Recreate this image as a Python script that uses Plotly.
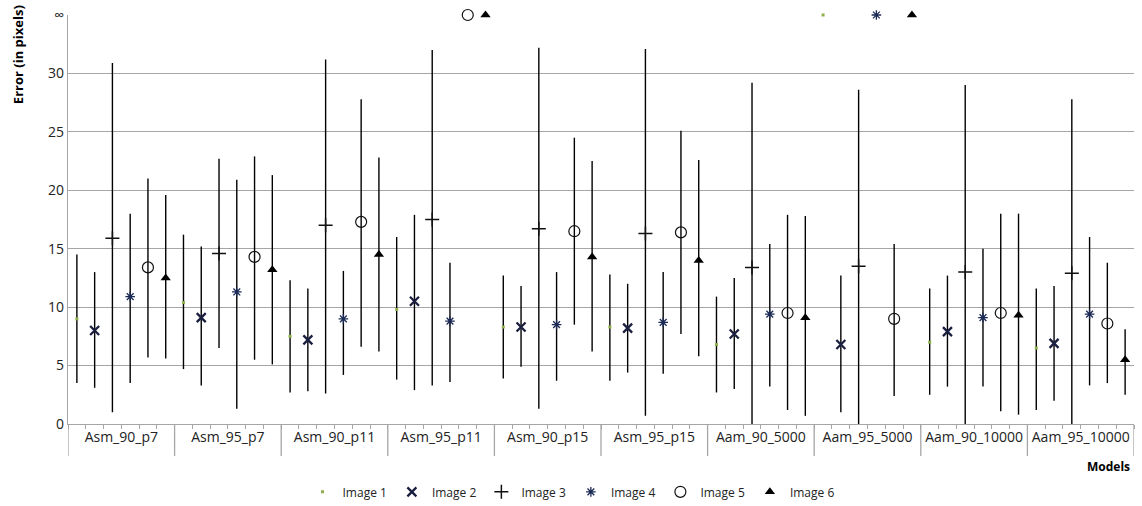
import plotly.graph_objects as go

INF = float("inf")
INF_LEVEL = 35  # position of the "∞" tick

models = ["Asm_90_p7", "Asm_95_p7", "Asm_90_p11", "Asm_95_p11", "Asm_90_p15",
          "Asm_95_p15", "Aam_90_5000", "Aam_95_5000", "Aam_90_10000", "Aam_95_10000"]
series_names = ["Image 1", "Image 2", "Image 3", "Image 4", "Image 5", "Image 6"]

# mean error per model for each image (inf = infinite error)
img1_mean = [9.0, 10.4, 7.5, 9.8, 8.3, 8.3, 6.8, INF, 7.0, 6.5]
img1_max  = [14.5, 16.2, 12.3, 16.0, 12.7, 12.8, 10.9, None, 11.6, 11.6]
img1_min  = [3.5, 4.7, 2.7, 3.8, 3.9, 3.7, 2.7, None, 2.5, 1.2]

img2_mean = [8.0, 9.1, 7.2, 10.5, 8.3, 8.2, 7.7, 6.8, 7.9, 6.9]
img2_max  = [13.0, 15.2, 11.6, 17.9, 11.8, 12.0, 12.5, 12.7, 12.7, 11.8]
img2_min  = [3.1, 3.3, 2.8, 2.9, 4.9, 4.4, 3.0, 1.0, 3.2, 2.0]

img3_mean = [15.9, 14.6, 17.0, 17.5, 16.7, 16.3, 13.4, 13.5, 13.0, 12.9]
img3_max  = [30.9, 22.7, 31.2, 32.0, 32.2, 32.1, 29.2, 28.6, 29.0, 27.8]
img3_min  = [1.0, 6.5, 2.6, 3.3, 1.3, 0.7, 0.0, 0.0, 0.0, 0.0]

img4_mean = [10.9, 11.3, 9.0, 8.8, 8.5, 8.7, 9.4, INF, 9.1, 9.4]
img4_max  = [18.0, 20.9, 13.1, 13.8, 13.0, 13.0, 15.4, None, 15.0, 16.0]
img4_min  = [3.5, 1.3, 4.2, 3.6, 3.7, 4.3, 3.2, None, 3.2, 3.3]

img5_mean = [13.4, 14.3, 17.3, INF, 16.5, 16.4, 9.5, 9.0, 9.5, 8.6]
img5_max  = [21.0, 22.9, 27.8, None, 24.5, 25.1, 17.9, 15.4, 18.0, 13.8]
img5_min  = [5.7, 5.5, 6.6, None, 8.5, 7.7, 1.2, 2.4, 1.1, 3.5]

img6_mean = [12.5, 13.2, 14.5, INF, 14.3, 14.0, 9.1, INF, 9.3, 5.5]
img6_max  = [19.6, 21.3, 22.8, None, 22.5, 22.6, 17.8, None, 18.0, 8.1]
img6_min  = [5.6, 5.1, 6.2, None, 6.2, 5.8, 0.7, None, 0.8, 2.5]

y_tickvals = [0, 5, 10, 15, 20, 25, 30, 35]
y_ticktext = ["0", "5", "10", "15", "20", "25", "30", "∞"]

means = [img1_mean, img2_mean, img3_mean, img4_mean, img5_mean, img6_mean]
maxs = [img1_max, img2_max, img3_max, img4_max, img5_max, img6_max]
mins = [img1_min, img2_min, img3_min, img4_min, img5_min, img6_min]

styles = [
    dict(symbol="square", size=3, color="#8db04a", line=dict(width=0)),
    dict(symbol="x-thin-open", size=9, color="#1b1f3f", line=dict(width=2.3, color="#1b1f3f")),
    dict(symbol="cross-thin-open", size=10, color="#111111", line=dict(width=1.5, color="#111111")),
    dict(symbol="asterisk-open", size=8, color="#1b2a55", line=dict(width=1.3, color="#1b2a55")),
    dict(symbol="circle-open", size=11, color="#111111", line=dict(width=1.2, color="#111111")),
    dict(symbol="triangle-up", size=9, color="#000000", line=dict(width=0)),
]

fig = go.Figure()
n = len(models)
for i, name in enumerate(series_names):
    xs, ys, up, dn = [], [], [], []
    for c in range(n):
        m = means[i][c]
        xs.append(c + (i + 0.5) / 6)
        if m == INF:
            ys.append(INF_LEVEL)
            up.append(0)
            dn.append(0)
        else:
            ys.append(m)
            up.append(maxs[i][c] - m)
            dn.append(m - mins[i][c])
    fig.add_trace(go.Scatter(
        x=xs, y=ys, mode="markers", name=name, marker=dict(styles[i]), cliponaxis=False,
        error_y=dict(type="data", symmetric=False, array=up, arrayminus=dn,
                     color="#000000", thickness=1.4, width=0),
    ))

# category separator ticks below the axis
for k in range(n + 1):
    fig.add_shape(type="line", xref="x", yref="paper", x0=k, x1=k, y0=0, y1=-0.078,
                  line=dict(color="#a6a6a6", width=1.3))

fig.add_annotation(text="<b>Error (in pixels)</b>", xref="paper", yref="paper",
                   x=-0.047, y=1.03, xanchor="center", yanchor="top", textangle=-90,
                   showarrow=False, font=dict(size=13, color="#000000"))
fig.add_annotation(text="<b>Models</b>", xref="paper", yref="paper",
                   x=0.998, y=-0.105, xanchor="right", yanchor="middle",
                   showarrow=False, font=dict(size=12, color="#000000"))

fig.update_layout(
    width=1142, height=506,
    margin=dict(l=68, r=8, t=15, b=82, autoexpand=False),
    paper_bgcolor="white", plot_bgcolor="white",
    font=dict(family="Open Sans, Noto Sans, sans-serif", size=13, color="#222222"),
    showlegend=True,
    legend=dict(orientation="h", x=0.5, xanchor="center", xref="container",
                y=0.028, yanchor="middle", yref="container",
                font=dict(size=12, color="#222222"), itemwidth=30, tracegroupgap=0),
    xaxis=dict(range=[0, n], tickvals=[c + 0.5 for c in range(n)], ticktext=models,
               ticks="", showgrid=False, zeroline=False, showline=True,
               linecolor="#a6a6a6", linewidth=1.3, tickfont=dict(size=14, color="#222222"),
               minor=dict(ticks="outside", dtick=1 / 6, tick0=0, ticklen=4,
                          tickcolor="#a6a6a6", showgrid=False)),
    yaxis=dict(range=[0, 35], tickvals=y_tickvals, ticktext=y_ticktext,
               showgrid=True, gridcolor="#a6a6a6", gridwidth=1.3, zeroline=False,
               showline=True, linecolor="#a6a6a6", linewidth=1.3, ticks="",
               tickfont=dict(size=14, color="#222222")),
)

fig.write_html("out.html", config={"displayModeBar": False},
               post_script="document.body.style.margin='0';document.body.style.overflow='hidden';")
